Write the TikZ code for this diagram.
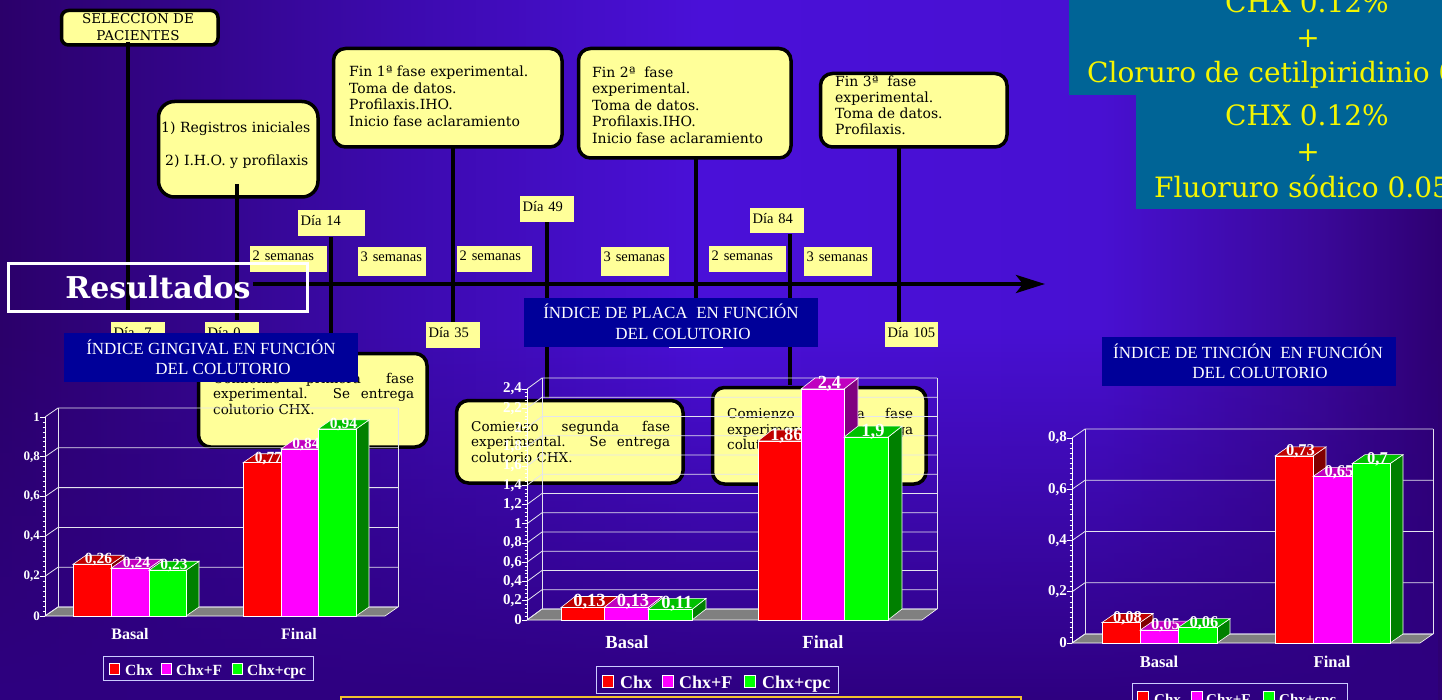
\documentclass[tikz,border=0pt]{standalone}
\usepackage{fontspec}
\setmainfont{Liberation Serif}
\newfontfamily\bookf{DejaVu Serif}
\usetikzlibrary{arrows.meta,fadings}
\definecolor{bg0}{HTML}{2B006A}
\definecolor{bg1}{HTML}{3C0AAE}
\definecolor{bg2}{HTML}{4A10D8}
\definecolor{bg3}{HTML}{4810D2}
\definecolor{bg4}{HTML}{3A0898}
\definecolor{bg5}{HTML}{2E0072}
\definecolor{bgbot}{HTML}{2E0080}
\definecolor{tealbox}{HTML}{006496}
\definecolor{tealtxt}{HTML}{F5F500}
\definecolor{ybox}{HTML}{FFFF99}
\definecolor{tbox}{HTML}{000099}
\definecolor{rF}{HTML}{FF0000}\definecolor{rT}{HTML}{C00000}\definecolor{rS}{HTML}{800000}
\definecolor{mF}{HTML}{FF00FF}\definecolor{mT}{HTML}{C000C0}\definecolor{mS}{HTML}{800080}
\definecolor{gF}{HTML}{00FF00}\definecolor{gT}{HTML}{00C000}\definecolor{gS}{HTML}{008000}
\definecolor{floorc}{HTML}{808080}
\definecolor{gridc}{HTML}{E4E4EE}
\definecolor{orangeb}{HTML}{F2C12E}
\tikzset{
 rbox/.style={draw=black, line width=3.5pt, fill=ybox, rounded corners=12pt, anchor=north west, inner sep=0pt},
 btxt/.style={anchor=base west, inner sep=0pt, text=black, font=\bookf\fontsize{14}{16}\selectfont},
 ctxt/.style={anchor=base west, inner sep=0pt, text=black, font=\bookf\fontsize{13.5}{15}\selectfont},
 dlab/.style={fill=ybox, anchor=north west, inner xsep=2.5pt, inner ysep=0pt, align=left, text=black, font=\fontsize{14.5}{16}\selectfont},
 tline/.style={line width=4pt, draw=black},
 ttl/.style={fill=tbox, anchor=north west, inner sep=0pt},
 ttxt/.style={anchor=base, inner sep=0pt, text=white, font=\fontsize{17}{20}\selectfont},
 tealt/.style={inner sep=0pt, text=tealtxt, font=\bookf\fontsize{28}{32}\selectfont},
 gridl/.style={draw=gridc, line width=0.8pt},
 axl/.style={draw=white, line width=0.8pt},
 barl/.style={draw=white, line width=0.6pt},
 vlab/.style={inner sep=0pt, text=white, font=\bfseries\fontsize{\vfs}{\vfs}\selectfont},
 axlab/.style={anchor=east, inner sep=0pt, text=white, font=\bfseries\fontsize{\afs}{\afs}\selectfont},
 catlab/.style={anchor=base, inner sep=0pt, text=white, font=\bfseries\fontsize{\cfs}{\cfs}\selectfont},
 legt/.style={anchor=base west, inner sep=0pt, text=white, font=\bfseries\fontsize{\lfs}{\lfs}\selectfont},
 legsq/.style={draw=white, line width=0.6pt, anchor=north west, inner sep=0pt},
 legbox/.style={draw=white!80!blue, line width=0.8pt},
}
\newcommand{\mkframe}[1]{%
  \pgfmathsetmacro{\Ytop}{\Yo-\Vm*\Sc}%
  \filldraw[fill=floorc, draw=white, line width=0.6pt] (\Xo,\Yo) -- (\Xr,\Yo) -- ({\Xr+\Dx},{\Yo-\Dy}) -- ({\Xo+\Dx},{\Yo-\Dy}) -- cycle;
  \foreach \v/\lab [count=\k] in {#1} {%
    \draw[gridl] (\Xo,{\Yo-\v*\Sc}) -- ({\Xo+\Dx},{\Yo-\v*\Sc-\Dy}) -- ({\Xr+\Dx},{\Yo-\v*\Sc-\Dy});
    \draw[axl] ({\Xo-5},{\Yo-\v*\Sc}) -- (\Xo,{\Yo-\v*\Sc});
    \node[axlab] (\cid y\k) at ({\Xo-5},{\Yo-\v*\Sc}) {\lab};
  }
  \draw[gridl] ({\Xo+\Dx},{\Yo-\Dy}) -- ({\Xo+\Dx},{\Ytop-\Dy});
  \draw[gridl] ({\Xr+\Dx},{\Yo-\Dy}) -- ({\Xr+\Dx},{\Ytop-\Dy});
  \draw[axl] (\Xo,\Yo) -- (\Xo,\Ytop);
  \foreach \j in {0,...,\Nmin} {\draw[axl] ({\Xo-2.5},{\Yo-\j*\Vm*\Sc/\Nmin}) -- (\Xo,{\Yo-\j*\Vm*\Sc/\Nmin});}
}
\newcommand{\mkbar}[6]{%
  \pgfmathsetmacro{\bartop}{\Yo-#4*\Sc}%
  \filldraw[fill=#5S, barl] (#3,\Yo) -- ({#3+\Bdx},{\Yo-\Bdy}) -- ({#3+\Bdx},{\bartop-\Bdy}) -- (#3,\bartop) -- cycle;
  \filldraw[fill=#5T, barl] (#2,\bartop) -- (#3,\bartop) -- ({#3+\Bdx},{\bartop-\Bdy}) -- ({#2+\Bdx},{\bartop-\Bdy}) -- cycle;
  \filldraw[fill=#5F, barl] (#2,\Yo) rectangle (#3,\bartop);
  \node[vlab] (#1) at ({(#2+#3)/2+\Bdx/2},{\bartop-\Bdy/2}) {#6};
}
\begin{document}
\begin{tikzpicture}[x=1pt,y=-1pt]
\useasboundingbox (0,0) rectangle (1442,700);
\clip (0,0) rectangle (1442,700);
% background
\shade[left color=bg0, right color=bg1] (0,0) rectangle (401,700);
\shade[left color=bg1, right color=bg2] (400,0) rectangle (701,700);
\shade[left color=bg2, right color=bg3] (700,0) rectangle (1101,700);
\shade[left color=bg3, right color=bg4] (1100,0) rectangle (1321,700);
\shade[left color=bg4, right color=bg5] (1320,0) rectangle (1442,700);
\fill[bgbot, path fading=north] (0,330) rectangle (1442,700);
% teal box
\fill[tealbox] (1069,0) rectangle (1442,95);
\fill[tealbox] (1136,95) rectangle (1442,209);
\node[tealt, anchor=base west] (tc1) at (1225,12.5) {CHX 0.12\%};
\node[tealt, anchor=base] (tp1) at (1308,48) {+};
\node[tealt, anchor=base west] (tcl) at (1087,82.7) {Cloruro de cetilpiridinio 0.05\%};
\node[tealt, anchor=base west] (tc2) at (1225,126) {CHX 0.12\%};
\node[tealt, anchor=base] (tp2) at (1308,162) {+};
\node[tealt, anchor=base west] (tfl) at (1154,198) {Fluoruro sódico 0.05\%};
% timeline
\coordinate (h0) at (253,284); \coordinate (h1) at (1045,284);
\draw[tline, -{Stealth[length=29pt,width=18pt,inset=7pt]}] (h0) -- (h1);
% top boxes
\node[rbox, rounded corners=7pt, minimum width=156.5pt, minimum height=34.5pt] (sel) at (59.75,8.75) {};
\node[anchor=base, inner sep=0pt, font=\bookf\fontsize{13.5}{15}\selectfont] (selt1) at (138,24) {SELECCIÓN DE};
\node[anchor=base, inner sep=0pt, font=\bookf\fontsize{13.5}{15}\selectfont] (selt2) at (138,41) {PACIENTES};
\node[rbox, rounded corners=16pt, minimum width=159.5pt, minimum height=95.5pt] (b2) at (156.75,99.75) {};
\node[btxt] (b2l1) at (161,133) {1) Registros iniciales};
\node[btxt] (b2l2) at (165,166) {2) I.H.O. y profilaxis};
\node[rbox, minimum width=228.5pt, minimum height=98.5pt] (b3) at (331.75,46.75) {};
\foreach \t [count=\k] in {Fin 1ª fase experimental., Toma de datos., Profilaxis.IHO., Inicio fase aclaramiento}
  \node[btxt] (b3l\k) at (349,{77+(\k-1)*16.5}) {\t};
\node[rbox, minimum width=212.5pt, minimum height=109.5pt] (b4) at (576.75,46.75) {};
\foreach \t [count=\k] in {Fin 2ª~ fase, experimental., Toma de datos., Profilaxis.IHO., Inicio fase aclaramiento}
  \node[btxt] (b4l\k) at (592,{77.3+(\k-1)*16.5}) {\t};
\node[rbox, minimum width=186.5pt, minimum height=73.5pt] (b5) at (818.75,71.75) {};
\foreach \t [count=\k] in {Fin 3ª~ fase, experimental., Toma de datos., Profilaxis.}
  \node[btxt] (b5l\k) at (835,{86.7+(\k-1)*16.1}) {\t};
% vertical lines
\coordinate (v1a) at (128,42);  \coordinate (v1b) at (128,313);
\coordinate (v2a) at (237,184); \coordinate (v2b) at (237,320);
\coordinate (v3a) at (331,237); \coordinate (v3b) at (331,352);
\coordinate (v4a) at (453,147); \coordinate (v4b) at (453,322);
\coordinate (v5a) at (547,222); \coordinate (v5b) at (547,398);
\coordinate (v6a) at (696,158); \coordinate (v6b) at (696,298);
\coordinate (v7a) at (790,234); \coordinate (v7b) at (790,385);
\coordinate (v8a) at (899,147); \coordinate (v8b) at (899,322);
\foreach \i in {1,...,8} \draw[tline] (v\i a) -- (v\i b);
% day labels
\node[dlab, text width=49pt, text height=15pt, text depth=11pt] (dm7) at (111,322) {Día -7};
\node[dlab, text width=49pt, text height=15pt, text depth=11pt] (d0) at (205,322) {Día 0};
\node[dlab, text width=62pt, text height=15pt, text depth=11pt] (d14) at (298,210) {Día 14};
\node[dlab, text width=49pt, text height=15pt, text depth=11pt] (d35) at (426,322) {Día 35};
\node[dlab, text width=49pt, text height=15pt, text depth=11pt] (d49) at (520,196) {Día 49};
\node[dlab, text width=49pt, text height=15pt, text depth=10pt] (d84) at (750,208) {Día 84};
\node[dlab, text width=48pt, text height=15pt, text depth=10pt] (d105) at (885,322) {Día 105};
\node[dlab, text width=72pt, text height=14pt, text depth=12pt] (s1) at (250,246) {2 semanas};
\node[dlab, text width=63pt, text height=14pt, text depth=15pt] (s2) at (358,247) {3 semanas};
\node[dlab, text width=70pt, text height=14pt, text depth=12pt] (s3) at (457,246) {2 semanas};
\node[dlab, text width=63pt, text height=14pt, text depth=15pt] (s4) at (601,247) {3 semanas};
\node[dlab, text width=72pt, text height=14pt, text depth=12pt] (s5) at (709,246) {2 semanas};
\node[dlab, text width=63pt, text height=14pt, text depth=15pt] (s6) at (804,247) {3 semanas};
% Resultados
\node[draw=white, line width=3pt, minimum width=299pt, minimum height=48pt, inner sep=0pt, text=white, font=\bookf\bfseries\fontsize{30}{32}\selectfont] (res) at (158,287.5) {Resultados};
% Comienzo boxes
\node[rbox, minimum width=228.5pt, minimum height=93.5pt] (c1) at (196.75,351.75) {};
\node[ctxt] (c1l1) at (213,383) {\makebox[201pt][s]{Comienzo primera fase}};
\node[ctxt] (c1l2) at (213,398.5) {\makebox[201pt][s]{experimental. Se entrega}};
\node[ctxt] (c1l3) at (213,414) {colutorio CHX.};
\node[rbox, minimum width=226.5pt, minimum height=82.5pt] (c2) at (454.75,398.75) {};
\node[ctxt] (c2l1) at (471,431) {\makebox[199pt][s]{Comienzo segunda fase}};
\node[ctxt] (c2l2) at (471,446.7) {\makebox[199pt][s]{experimental. Se entrega}};
\node[ctxt] (c2l3) at (471,462.3) {colutorio CHX.};
\node[rbox, minimum width=213.5pt, minimum height=96.5pt] (c3) at (710.75,385.75) {};
\node[ctxt] (c3l1) at (727,418) {\makebox[186pt][s]{Comienzo tercera fase}};
\node[ctxt] (c3l2) at (727,434) {\makebox[186pt][s]{experimental. Se entrega}};
\node[ctxt] (c3l3) at (727,449.3) {colutorio CHX.};
% title boxes
\node[ttl, minimum width=294pt, minimum height=49pt] (t1) at (64,333) {};
\node[ttxt] (t1a) at (211,354) {ÍNDICE GINGIVAL EN FUNCIÓN};
\node[ttxt] (t1b) at (223,374) {DEL COLUTORIO};
\node[ttl, minimum width=294pt, minimum height=49pt] (t2) at (524,298) {};
\node[ttxt] (t2a) at (671,319) {ÍNDICE DE PLACA\ \ EN FUNCIÓN};
\node[ttxt] (t2b) at (683,339) {DEL COLUTORIO};
\coordinate (u0) at (669,347.5); \coordinate (u1) at (723,347.5);
\draw[white, line width=1pt] (u0) -- (u1);
\node[ttl, minimum width=294pt, minimum height=49pt] (t3) at (1102,337) {};
\node[ttxt] (t3a) at (1248,358) {ÍNDICE DE TINCIÓN\ \ EN FUNCIÓN};
\node[ttxt] (t3b) at (1260,378) {DEL COLUTORIO};
% chart 1
\def\cid{g}\def\Xo{45}\def\Yo{616}\def\Sc{199}\def\Vm{1}\def\Xr{385}\def\Dx{13}\def\Dy{9}\def\Bdx{13}\def\Bdy{9}\def\Nmin{40}
\def\vfs{15.5}\def\afs{13}\def\cfs{16}\def\lfs{15.5}
\mkframe{0/0,0.2/{0,2},0.4/{0,4},0.6/{0,6},0.8/{0,8},1/1}
\mkbar{gb1}{73}{111}{0.26}{r}{0,26}
\mkbar{gb2}{111}{149}{0.24}{m}{0,24}
\mkbar{gb3}{149}{186}{0.23}{g}{0,23}
\mkbar{gf1}{243}{281}{0.77}{r}{0,77}
\mkbar{gf2}{281}{318}{0.84}{m}{0,84}
\mkbar{gf3}{318}{356}{0.94}{g}{0,94}
\node[catlab] (gcb) at (130,639) {Basal};
\node[catlab] (gcf) at (299,639) {Final};
\draw[legbox] (103,656) rectangle (313,680);
\node[legsq, fill=rF, minimum width=10pt, minimum height=11pt] (gl1) at (109,663) {};
\node[legt] (gl1t) at (125,675) {Chx};
\node[legsq, fill=mF, minimum width=10pt, minimum height=11pt] (gl2) at (161,663) {};
\node[legt] (gl2t) at (176,675) {Chx+F};
\node[legsq, fill=gF, minimum width=10pt, minimum height=11pt] (gl3) at (232,663) {};
\node[legt] (gl3t) at (247,675) {Chx+cpc};
% chart 2
\def\cid{p}\def\Xo{527}\def\Yo{620}\def\Sc{96.25}\def\Vm{2.4}\def\Xr{922}\def\Dx{15}\def\Dy{11}\def\Bdx{14}\def\Bdy{11}\def\Nmin{60}
\def\vfs{18.5}\def\afs{15}\def\cfs{18.5}\def\lfs{18}
\mkframe{0/0,0.2/{0,2},0.4/{0,4},0.6/{0,6},0.8/{0,8},1/1,1.2/{1,2},1.4/{1,4},1.6/{1,6},1.8/{1,8},2/2,2.2/{2,2},2.4/{2,4}}
\mkbar{pb1}{561}{604}{0.13}{r}{0,13}
\mkbar{pb2}{604}{648}{0.13}{m}{0,13}
\mkbar{pb3}{648}{692}{0.11}{g}{0,11}
\mkbar{pf1}{758}{801}{1.86}{r}{1,86}
\mkbar{pf2}{801}{844}{2.4}{m}{2,4}
\mkbar{pf3}{844}{888}{1.9}{g}{1,9}
\node[catlab] (pcb) at (627,648) {Basal};
\node[catlab] (pcf) at (823,648) {Final};
\draw[legbox] (596,666) rectangle (838,693);
\node[legsq, fill=rF, minimum width=11pt, minimum height=12pt] (pl1) at (602,675) {};
\node[legt] (pl1t) at (620,688) {Chx};
\node[legsq, fill=mF, minimum width=11pt, minimum height=12pt] (pl2) at (662,675) {};
\node[legt] (pl2t) at (679,688) {Chx+F};
\node[legsq, fill=gF, minimum width=11pt, minimum height=12pt] (pl3) at (744,675) {};
\node[legt] (pl3t) at (762,688) {Chx+cpc};
% chart 3
\def\cid{t}\def\Xo{1072}\def\Yo{643}\def\Sc{256.25}\def\Vm{0.8}\def\Xr{1420}\def\Dx{13}\def\Dy{9}\def\Bdx{13}\def\Bdy{9}\def\Nmin{40}
\def\vfs{16.5}\def\afs{15}\def\cfs{16.5}\def\lfs{15}
\mkframe{0/0,0.2/{0,2},0.4/{0,4},0.6/{0,6},0.8/{0,8}}
\mkbar{tb1}{1102}{1140}{0.08}{r}{0,08}
\mkbar{tb2}{1140}{1178}{0.05}{m}{0,05}
\mkbar{tb3}{1178}{1217}{0.06}{g}{0,06}
\mkbar{tf1}{1275}{1313}{0.73}{r}{0,73}
\mkbar{tf2}{1313}{1352}{0.65}{m}{0,65}
\mkbar{tf3}{1352}{1390}{0.7}{g}{0,7}
\node[catlab] (tcb) at (1159,667.5) {Basal};
\node[catlab] (tcf) at (1332,667.5) {Final};
\draw[legbox] (1132,683) rectangle (1347,712);
\node[legsq, fill=rF, minimum width=11pt, minimum height=11pt] (tl1) at (1137,691) {};
\node[legt] (tl1t) at (1154,704) {Chx};
\node[legsq, fill=mF, minimum width=11pt, minimum height=11pt] (tl2) at (1191,691) {};
\node[legt] (tl2t) at (1206,704) {Chx+F};
\node[legsq, fill=gF, minimum width=11pt, minimum height=11pt] (tl3) at (1263,691) {};
\node[legt] (tl3t) at (1279,704) {Chx+cpc};
% bottom box
\draw[orangeb, line width=2pt] (341,697) rectangle (1021,720);
\end{tikzpicture}
\end{document}
